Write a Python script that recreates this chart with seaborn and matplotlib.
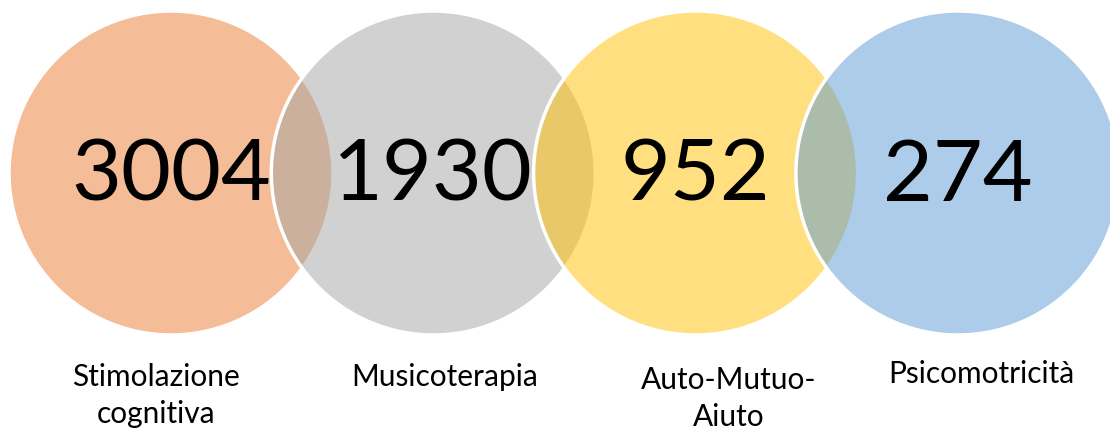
import pandas as pd
import matplotlib.pyplot as plt
import seaborn as sns

# Chart data
categories = ["Stimolazione\ncognitiva", "Musicoterapia", "Auto-Mutuo-\nAiuto", "Psicomotricità"]
counts = [3004, 1930, 952, 274]
colors = ["#ED7D31", "#A5A5A5", "#FFC000", "#5B9BD5"]

df = pd.DataFrame({"category": categories, "count": counts})
df["pos"] = range(len(df))
df["row"] = 0.0

sns.set_style("white")
plt.rcParams["font.family"] = ["Lato", "DejaVu Sans"]

fig = plt.figure(figsize=(11.1, 4.32), dpi=100)
ax = fig.add_axes([0, 0, 1, 1])

step = 262.3  # pixels between circle centres
cy = 173      # pixel row of circle centres


def py(pix):
    # pixel row (from top) -> data y
    return (cy - pix) / step


sns.scatterplot(data=df, x="pos", y="row", hue="category",
                palette=dict(zip(categories, colors)),
                s=(324 * 0.72) ** 2, linewidth=2.5,
                legend=False, ax=ax)
coll = ax.collections[0]
fc = coll.get_facecolors()
fc[:, 3] = 0.5
coll.set_facecolors(fc)
coll.set_edgecolor("white")

# big numbers inside the circles
for i, n in enumerate(df["count"]):
    ax.text(i, py(201), str(n), ha="center", va="baseline", fontsize=62, color="black")

# labels under the circles
label_dx = [-15, 11, 33, 23]
label_top = [363, 363, 366, 360]
for i, lab in enumerate(df["category"]):
    ax.text(i + label_dx[i] / step, py(label_top[i]), lab, ha="center", va="top",
            fontsize=21.5, color="black", linespacing=1.4)

ax.set_xlim(-171 / step, (1110 - 171) / step)
ax.set_ylim(py(432), py(0))
ax.set_aspect("equal")
ax.axis("off")

fig.savefig("out.png", dpi=100, facecolor="white")
